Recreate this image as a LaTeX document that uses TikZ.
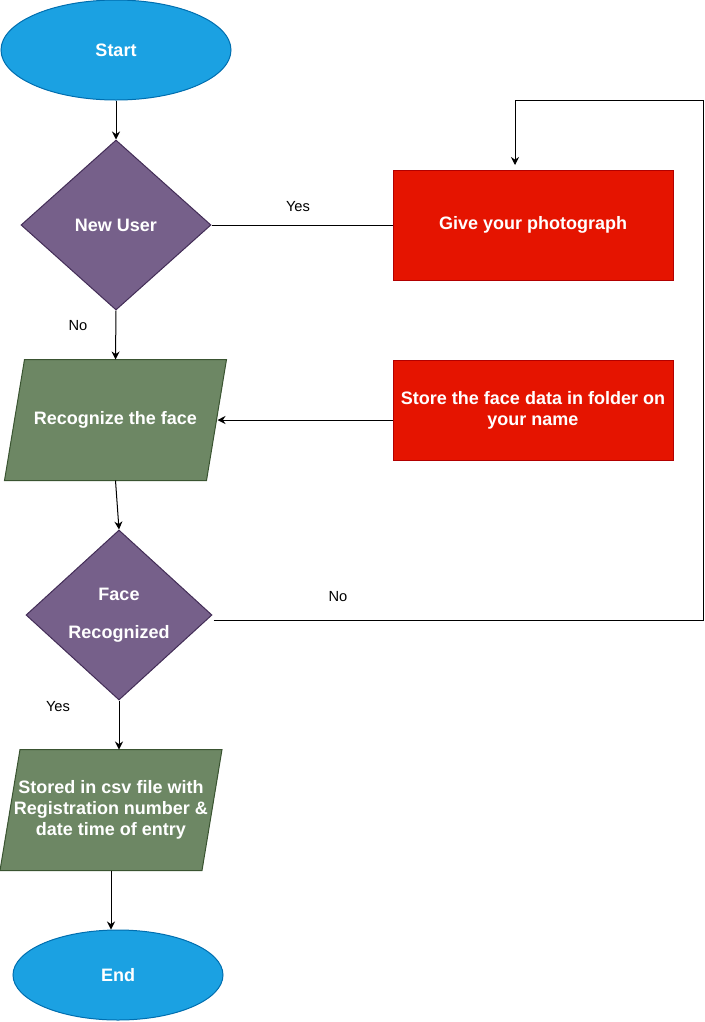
\documentclass[tikz,border=0pt]{standalone}
\usepackage{fontspec}
\setmainfont{Liberation Sans}
\usetikzlibrary{shapes.geometric}
\usetikzlibrary{arrows.meta}
\usetikzlibrary{backgrounds}
\definecolor{termfill}{HTML}{1BA1E2}
\definecolor{termedge}{HTML}{006EAF}
\definecolor{askfill}{HTML}{76608A}
\definecolor{askedge}{HTML}{432D57}
\definecolor{redfill}{HTML}{E51400}
\definecolor{rededge}{HTML}{B20000}
\definecolor{iofill}{HTML}{6D8764}
\definecolor{ioedge}{HTML}{3A5431}
\tikzset{
  boxtext/.style={text=white, font=\bfseries\fontsize{13.5}{15.75}\selectfont, align=center, inner sep=0pt, line width=0.75pt},
  termbox/.style={boxtext, ellipse, draw=termedge, fill=termfill},
  askbox/.style={boxtext, diamond, draw=askedge, fill=askfill, minimum height=127.5pt},
  redbox/.style={boxtext, rectangle, draw=rededge, fill=redfill, minimum width=210pt},
  iobox/.style={boxtext, rectangle, minimum width=150.75pt, minimum height=90pt},
  flow/.style={line width=0.75pt, -{Stealth[length=6pt,width=6pt]}},
  tag/.style={font=\fontsize{11}{13}\selectfont, inner sep=0pt}
}
% slanted frame behind an iobox node
\newcommand{\ioframe}[1]{%
  \begin{scope}[on background layer]
    \filldraw[line width=0.75pt, draw=ioedge, fill=iofill]
      ([xshift=7.5pt]#1.north west) -- ([xshift=7.5pt]#1.north east) --
      ([xshift=-7.5pt]#1.south east) -- ([xshift=-7.5pt]#1.south west) -- cycle;
  \end{scope}}
\begin{document}
\begin{tikzpicture}[x=0.75pt,y=-0.75pt]
        \useasboundingbox (0,0) rectangle (705,1022);
        \node[termbox, minimum width=172.5pt, minimum height=75pt] (start) at (116,50) {Start};
        \node[askbox, minimum width=142.5pt] (newuser) at (116,225) {New User};
        \node[redbox, minimum height=82.5pt] (photo) at (533,225) {Give your photograph};
        \node[iobox] (recog) at (115.5,420) {Recognize the face};
        \ioframe{recog}
        \node[redbox, minimum height=75pt] (store) at (533,410) {Store the face data in folder on\\your name};
        \node[askbox, minimum width=139.5pt] (facerec) at (119,615) {Face\\[12.5pt]Recognized};
        \node[iobox] (stored) at (111,810) {Stored in csv file with\\Registration number \&\\date time of entry};
        \ioframe{stored}
        \node[termbox, minimum width=157.5pt, minimum height=67.5pt] (end) at (118,975) {End};
        % labels
        \node[tag] (yesnew) at (298,207) {Yes};
        \node[tag] (nonew) at (78,326) {No};
        \node[tag] (noface) at (338,597) {No};
        \node[tag] (yesface) at (58,707) {Yes};
        % loop back corners
        \coordinate (loopout) at ([shift={(1,5)}]facerec.east);
        \coordinate (loopup) at (703,100);
        \coordinate (photoin) at (515,165);
        \draw[flow] (start) -- (newuser);
        \draw[line width=0.75pt] (newuser.east) -- (photo.west);
        \draw[flow] (newuser.south) -- (recog.north);
        \draw[flow] (store.west |- recog.east) -- ([xshift=0.75pt]recog.east);
        \draw[flow] (recog.south) -- (facerec.north);
        \draw[flow] (loopout) -- (loopout -| loopup) -- (loopup) -| (photoin);
        \draw[flow] (facerec.south) -- (facerec.south |- stored.north);
        \draw[flow] (stored.south) -- (stored.south |- end.north);
    \end{tikzpicture}
\end{document}
